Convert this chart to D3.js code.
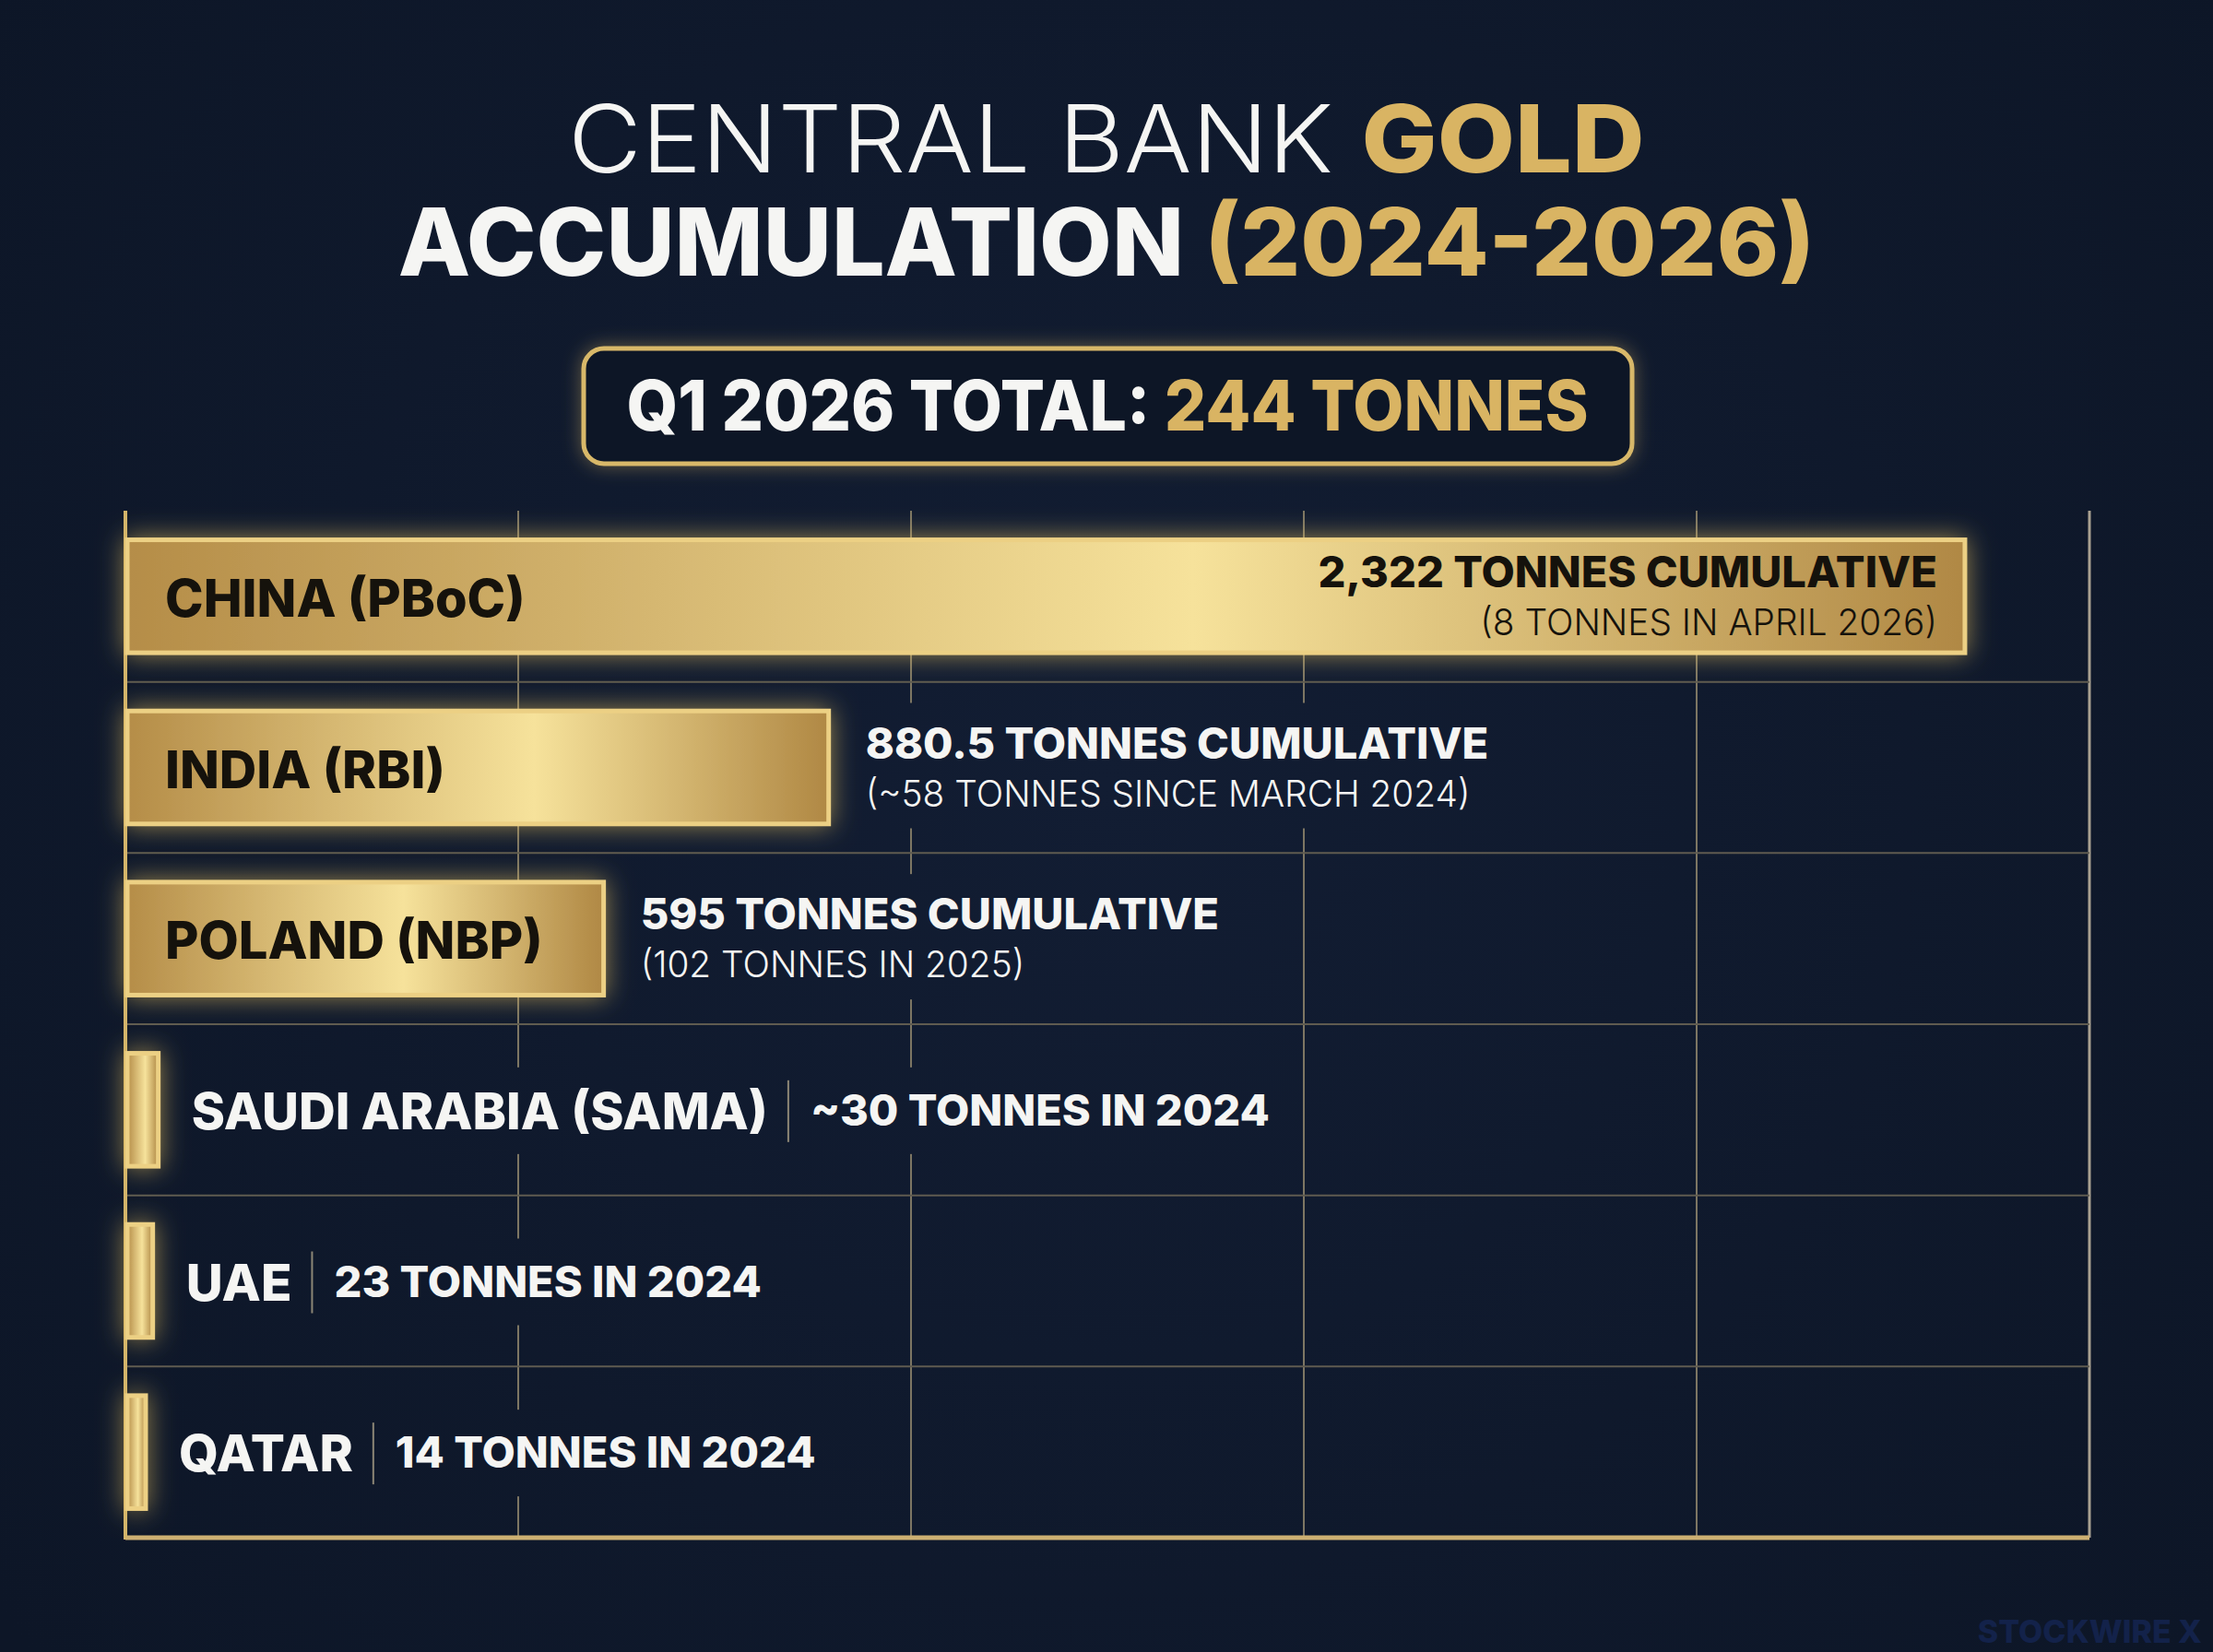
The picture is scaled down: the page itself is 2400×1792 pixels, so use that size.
<!DOCTYPE html>
<html>
<head>
<meta charset="utf-8">
<script src="https://cdn.jsdelivr.net/npm/d3@7"></script>
<style>
body { margin:0; background:#0f192b; }
svg { display:block; font-family: Inter, "Open Sans", sans-serif; }
</style>
</head>
<body>
<svg id="chart" width="2400" height="1792"></svg>
<script>
// chart data
var banks = ["CHINA (PBoC)", "INDIA (RBI)", "POLAND (NBP)", "SAUDI ARABIA (SAMA)", "UAE", "QATAR"]
var tonnes = [2322, 880.5, 595, 30, 23, 14]
var mainNotes = ["2,322 TONNES CUMULATIVE", "880.5 TONNES CUMULATIVE", "595 TONNES CUMULATIVE",
  "~30 TONNES IN 2024", "23 TONNES IN 2024", "14 TONNES IN 2024"]
var subNotes = ["(8 TONNES IN APRIL 2026)", "(~58 TONNES SINCE MARCH 2024)", "(102 TONNES IN 2025)", "", "", ""]
var titleWhite = ["CENTRAL BANK ", "ACCUMULATION "]
var titleGold = ["GOLD", "(2024-2026)"]
var totalLabel = "Q1 2026 TOTAL: "
var totalValue = "244 TONNES"
var xMax = 2480   // right edge of the grid, tonnes
var gridCols = 5

var W = 2400, H = 1792
var frame = {left: 136, right: 2266, top: 554, bottom: 1668}
var stub = 10     // bars keep a short stub past the axis line
var white = "#f5f5f3", gold = "#d9b463", ink = "#15120c"

var svg = d3.select("#chart")
var defs = svg.append("defs")

var bg = defs.append("radialGradient").attr("id", "bg").attr("gradientUnits", "userSpaceOnUse")
  .attr("cx", 1200).attr("cy", 850).attr("r", 1500)
bg.append("stop").attr("offset", 0).attr("stop-color", "#121d33")
bg.append("stop").attr("offset", 1).attr("stop-color", "#0d1627")

var barGrad = defs.append("linearGradient").attr("id", "barGrad")
barGrad.append("stop").attr("offset", 0).attr("stop-color", "#b58d48")
barGrad.append("stop").attr("offset", 0.58).attr("stop-color", "#f6e29b")
barGrad.append("stop").attr("offset", 1).attr("stop-color", "#b08844")

function glow(id, color, blur, opacity) {
  var f = defs.append("filter").attr("id", id).attr("filterUnits", "userSpaceOnUse")
    .attr("x", 0).attr("y", 0).attr("width", W).attr("height", H)
  f.append("feGaussianBlur").attr("in", "SourceAlpha").attr("stdDeviation", blur).attr("result", "b")
  f.append("feFlood").attr("flood-color", color).attr("flood-opacity", opacity)
  f.append("feComposite").attr("in2", "b").attr("operator", "in").attr("result", "g")
  var m = f.append("feMerge")
  m.append("feMergeNode").attr("in", "g")
  m.append("feMergeNode").attr("in", "SourceGraphic")
}
glow("barGlow", "#f0c860", 14, 0.6)
glow("boxGlow", "#e8c066", 10, 0.4)

svg.append("rect").attr("width", W).attr("height", H).attr("fill", "url(#bg)")

// squeeze or stretch a text to k times its natural width
function fit(sel, k) {
  sel.each(function() {
    var l = this.getComputedTextLength()
    this.setAttribute("textLength", l * k)
    this.setAttribute("lengthAdjust", "spacingAndGlyphs")
  })
  return sel
}

// title
var titleBase = [187, 299]
var titleWeight = [[300, 800], [800, 800]]
var titleFit = [1.07, 1.0]
for (var t = 0; t < 2; t++) {
  var tt = svg.append("text").attr("x", 1200).attr("y", titleBase[t]).attr("text-anchor", "middle").attr("font-size", 102)
  tt.append("tspan").attr("fill", white).attr("font-weight", titleWeight[t][0]).text(titleWhite[t])
  tt.append("tspan").attr("fill", gold).attr("font-weight", titleWeight[t][1]).text(titleGold[t])
  if (titleFit[t] != 1) fit(tt, titleFit[t])
}

// total box
svg.append("rect").attr("x", 633).attr("y", 378).attr("width", 1137).attr("height", 125).attr("rx", 22)
  .attr("fill", "#111925").attr("stroke", "#d8b869").attr("stroke-width", 5).attr("filter", "url(#boxGlow)")
var box = svg.append("text").attr("x", 1201).attr("y", 467).attr("text-anchor", "middle")
  .attr("font-size", 76).attr("font-weight", 800)
box.append("tspan").attr("fill", white).text(totalLabel)
box.append("tspan").attr("fill", gold).text(totalValue)
fit(box, 0.94)

// scales
var x = d3.scaleLinear().domain([0, xMax]).range([frame.left + stub, frame.right])
var y = d3.scaleBand().domain(banks).range([frame.top, frame.bottom]).paddingInner(0.34).paddingOuter(0.17)
var gx = d3.scaleLinear().domain([0, gridCols]).range([frame.left, frame.right])

// grid, cut open behind the labels through a mask
var mask = defs.append("mask").attr("id", "gridMask").attr("maskUnits", "userSpaceOnUse")
  .attr("x", 0).attr("y", 0).attr("width", W).attr("height", H)
mask.append("rect").attr("width", W).attr("height", H).attr("fill", "white")

svg.append("g").attr("mask", "url(#gridMask)").selectAll("line").data(d3.range(1, gridCols + 1)).join("line")
  .attr("x1", function(d) { return gx(d) }).attr("x2", function(d) { return gx(d) })
  .attr("y1", frame.top).attr("y2", frame.bottom)
  .attr("stroke", function(d) { return d == gridCols ? "#a9a191" : "#7d7663" })
  .attr("stroke-width", function(d) { return d == gridCols ? 3 : 2 })

svg.append("g").selectAll("line").data(banks.slice(1)).join("line")
  .attr("x1", frame.left).attr("x2", frame.right)
  .attr("y1", function(d) { return y(d) - y.step() * y.paddingInner() / 2 })
  .attr("y2", function(d) { return y(d) - y.step() * y.paddingInner() / 2 })
  .attr("stroke", "#5f5b50").attr("stroke-width", 2)

// axis frame
svg.append("line").attr("x1", frame.left).attr("x2", frame.right).attr("y1", frame.bottom).attr("y2", frame.bottom)
  .attr("stroke", "#cdb072").attr("stroke-width", 5)
svg.append("line").attr("x1", frame.left).attr("x2", frame.left).attr("y1", frame.top).attr("y2", frame.bottom + 2)
  .attr("stroke", "#d3b46a").attr("stroke-width", 4)

// bars
svg.append("g").selectAll("rect").data(tonnes).join("rect")
  .attr("x", frame.left + 2)
  .attr("y", function(d, i) { return y(banks[i]) })
  .attr("width", function(d) { return x(d) - frame.left - 2 })
  .attr("height", y.bandwidth())
  .attr("fill", "url(#barGrad)").attr("stroke", "#ecd084").attr("stroke-width", 5)
  .attr("filter", "url(#barGlow)")

// labels
var labels = svg.append("g")
var holes = []
for (var i = 0; i < banks.length; i++) {
  var cy = y(banks[i]) + y.bandwidth() / 2
  var end = x(tonnes[i])
  var inside = end - frame.left > 300
  if (inside) {
    labels.append("text").attr("x", frame.left + 43).attr("y", cy + 22)
      .attr("font-size", 56).attr("font-weight", 800).attr("fill", ink).text(banks[i])
    var g = labels.append("g")
    var a = g.append("text").attr("x", end + 40).attr("y", cy - 10).attr("font-size", 47).attr("font-weight", 800).text(mainNotes[i])
    var b = g.append("text").attr("x", end + 40).attr("y", cy + 42).attr("font-size", 40).attr("font-weight", 300).text(subNotes[i])
    fit(b, 0.97)
    var r = g.node().getBoundingClientRect()
    if (r.right > frame.right - 20) {
      g.selectAll("text").attr("fill", ink).attr("text-anchor", "end").attr("x", end - 30)
    } else {
      g.selectAll("text").attr("fill", white)
      holes.push(r)
    }
  } else {
    var nm = labels.append("text").attr("x", end + 36).attr("y", cy + 21)
      .attr("font-size", 55).attr("font-weight", 800).attr("fill", white).text(banks[i])
    var nr = nm.node().getBoundingClientRect()
    var sx = nr.right + 22
    labels.append("line").attr("x1", sx).attr("x2", sx).attr("y1", cy - 32).attr("y2", cy + 35)
      .attr("stroke", "#8c8675").attr("stroke-width", 2)
    var v = labels.append("text").attr("x", sx + 24).attr("y", cy + 17)
      .attr("font-size", 47).attr("font-weight", 800).attr("fill", white).text(mainNotes[i])
    var vr = v.node().getBoundingClientRect()
    holes.push({left: nr.left, right: vr.right, top: Math.min(nr.top, vr.top), bottom: Math.max(nr.bottom, vr.bottom)})
  }
}
mask.selectAll("rect.hole").data(holes).join("rect").attr("class", "hole")
  .attr("x", function(d) { return d.left - 12 }).attr("y", function(d) { return d.top - 14 })
  .attr("width", function(d) { return d.right - d.left + 24 }).attr("height", function(d) { return d.bottom - d.top + 28 })
  .attr("fill", "black")

// watermark
svg.append("text").attr("x", 2388).attr("y", 1782).attr("text-anchor", "end").attr("font-size", 34)
  .attr("font-weight", 800).attr("fill", "#13224a").text("STOCKWIRE X")
</script>
</body>
</html>
